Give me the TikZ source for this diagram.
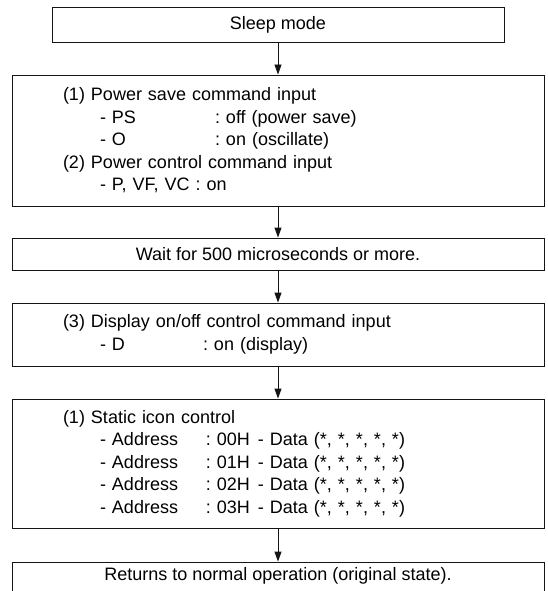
\documentclass[tikz,border=0pt]{standalone}
\usepackage{fontspec}
\setmainfont{Liberation Sans}
\usetikzlibrary{arrows.meta,positioning}
\definecolor{flowline}{RGB}{20,20,20}
\tikzset{
  stepbox/.style={rectangle, draw=flowline, line width=0.9pt, inner sep=0pt,
                  align=center, minimum height=32pt, minimum width=532pt,
                  font=\fontsize{18}{22.5}\selectfont\frenchspacing},
  listbox/.style={stepbox, align=left, text width=430pt},
  flowarrow/.style={-{Triangle[length=10pt, width=7pt]}, line width=0.9pt, flowline},
}
% one indented row: left item, then the value column
\newcommand{\cmdrow}[3]{\hspace*{37pt}\makebox[#1][l]{#2}#3}

\begin{document}
\begin{tikzpicture}[x=1pt, y=-1pt]
  \clip (0,0) rectangle (547,591);
  \node[stepbox, minimum width=452pt, minimum height=35pt] (sleep) at (278,24.5) {Sleep mode};
  \node[listbox, minimum height=131pt] (psave) at (278,140.5) {%
    (1) Power save command input\\
    \cmdrow{115pt}{- PS}{: off (power save)}\\
    \cmdrow{115pt}{- O}{: on (oscillate)}\\
    (2) Power control command input\\
    \hspace*{37pt}- P, VF, VC : on};
  \node[stepbox] (wait) at (278,254) {Wait for 500 microseconds or more.};
  \node[listbox, minimum height=63pt] (disp) at (278,334.5) {%
    (3) Display on/off control command input\\
    \cmdrow{103pt}{- D}{: on (display)}};
  \node[listbox, minimum height=129pt] (icon) at (278,463.5) {%
    (1) Static icon control\\
    \cmdrow{106pt}{- Address}{\makebox[52pt][l]{: 00H}- Data (*, *, *, *, *)}\\
    \cmdrow{106pt}{- Address}{\makebox[52pt][l]{: 01H}- Data (*, *, *, *, *)}\\
    \cmdrow{106pt}{- Address}{\makebox[52pt][l]{: 02H}- Data (*, *, *, *, *)}\\
    \cmdrow{106pt}{- Address}{\makebox[52pt][l]{: 03H}- Data (*, *, *, *, *)}};
  \node[stepbox, text depth=9pt] (normal) at (278,578) {Returns to normal operation (original state).};

  \draw[flowarrow] (sleep) -- (psave);
  \draw[flowarrow] (psave) -- (wait);
  \draw[flowarrow] (wait) -- (disp);
  \draw[flowarrow] (disp) -- (icon);
  \draw[flowarrow] (icon) -- (normal);
\end{tikzpicture}
\end{document}
